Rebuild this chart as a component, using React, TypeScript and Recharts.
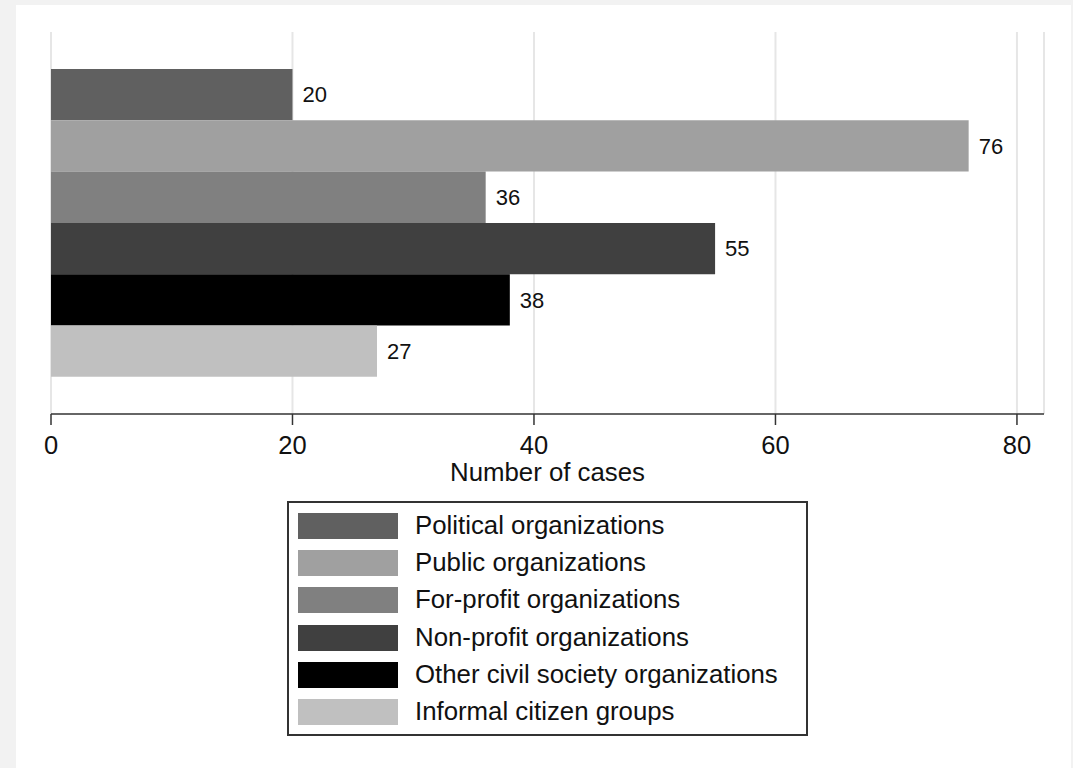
import { BarChart, Bar, XAxis, YAxis, CartesianGrid, Legend, LabelList } from 'recharts';

const seriesNames = [
  'Political organizations',
  'Public organizations',
  'For-profit organizations',
  'Non-profit organizations',
  'Other civil society organizations',
  'Informal citizen groups',
];
const seriesValues = [20, 76, 36, 55, 38, 27];
const xTicks = [0, 20, 40, 60, 80];

const seriesColors = ['#606060', '#a0a0a0', '#808080', '#404040', '#000000', '#c0c0c0'];
const FONT = '"Liberation Sans", Arial, sans-serif';

const chartData = [
  seriesValues.reduce<Record<string, number | string>>(
    (row, v, i) => {
      row[`s${i}`] = v;
      return row;
    },
    { group: 'all' }
  ),
];

// legend drawn in series order (recharts sorts by name otherwise)
function LegendBox() {
  return (
    <div
      style={{
        boxSizing: 'border-box',
        width: 521,
        height: 235,
        border: '2px solid #333',
        background: '#fff',
        padding: '4px 0 3px 9px',
        fontFamily: FONT,
      }}
    >
      {seriesNames.map((name, i) => (
        <div key={name} style={{ display: 'flex', alignItems: 'center', height: 37.3 }}>
          <div style={{ width: 100, height: 26, background: seriesColors[i] }} />
          <span style={{ marginLeft: 17, fontSize: 25.8, color: '#111', lineHeight: 1 }}>{name}</span>
        </div>
      ))}
    </div>
  );
}

export default function App() {
  return (
    <div style={{ position: 'absolute', left: 0, top: 0, width: 1073, height: 768, background: '#f2f2f2', overflow: 'hidden' }}>
      <div style={{ position: 'absolute', left: 16, top: 5, width: 1055, height: 763, background: '#fff' }} />
      <div style={{ position: 'absolute', left: 0, top: 0 }}>
        <BarChart
          width={1073}
          height={768}
          data={chartData}
          layout="vertical"
          margin={{ top: 32, right: 29, left: 51, bottom: 274 }}
          barGap={0}
          barSize={51.3}
          style={{ fontFamily: FONT }}
        >
          <CartesianGrid horizontal={false} stroke="#e6e6e6" strokeWidth={2} />
          <XAxis
            type="number"
            domain={[0, 82.24]}
            ticks={xTicks}
            allowDataOverflow
            height={80}
            stroke="#333"
            strokeWidth={1.5}
            tickSize={11}
            tickMargin={11}
            tick={{ fontSize: 25.5, fill: '#111', fontFamily: FONT }}
            label={{ value: 'Number of cases', position: 'insideTop', offset: 49, fontSize: 25.8, fill: '#111', fontFamily: FONT }}
          />
          <YAxis type="category" dataKey="group" width={0} tick={false} tickLine={false} stroke="#333" strokeWidth={1.5} />
          {seriesNames.map((name, i) => (
            <Bar key={name} dataKey={`s${i}`} name={name} fill={seriesColors[i]} isAnimationActive={false}>
              <LabelList dataKey={`s${i}`} position="right" offset={10} style={{ fontSize: 22, fill: '#111', fontFamily: FONT }} />
            </Bar>
          ))}
          <Legend
            layout="horizontal"
            verticalAlign="middle"
            align="center"
            content={<LegendBox />}
            wrapperStyle={{ left: 287, top: 501, width: 521, height: 235 }}
          />
        </BarChart>
      </div>
    </div>
  );
}
